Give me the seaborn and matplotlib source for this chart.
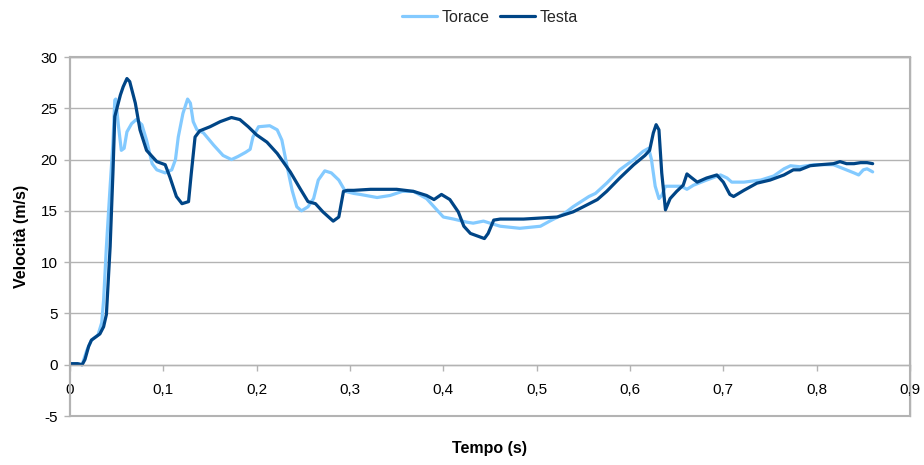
import matplotlib
matplotlib.use("Agg")
import matplotlib.pyplot as plt
import seaborn as sns
import pandas as pd
from matplotlib.ticker import FixedLocator, FixedFormatter
from matplotlib.patches import Rectangle

# --- data -------------------------------------------------------------------
series_names = ["Torace", "Testa"]
series_colors = ["#83caff", "#004586"]

torace_t = [
    0.000, 0.008, 0.013, 0.018, 0.023, 0.030, 0.034, 0.036, 0.039, 0.043,
    0.046, 0.048, 0.049, 0.052, 0.055, 0.058, 0.061, 0.066, 0.071, 0.077,
    0.082, 0.088, 0.093, 0.102, 0.109, 0.113, 0.116, 0.121, 0.126, 0.129,
    0.132, 0.136, 0.143, 0.154, 0.164, 0.173, 0.180, 0.188, 0.193, 0.196,
    0.202, 0.214, 0.222, 0.227, 0.232, 0.238, 0.243, 0.248, 0.255, 0.261,
    0.266, 0.273, 0.280, 0.288, 0.295, 0.304, 0.311, 0.329, 0.343, 0.356,
    0.368, 0.382, 0.391, 0.400, 0.411, 0.425, 0.432, 0.443, 0.450, 0.461,
    0.482, 0.504, 0.514, 0.529, 0.539, 0.556, 0.563, 0.575, 0.589, 0.604,
    0.614, 0.620, 0.623, 0.627, 0.631, 0.634, 0.638, 0.646, 0.655, 0.661,
    0.668, 0.682, 0.697, 0.704, 0.709, 0.722, 0.740, 0.754, 0.765, 0.772,
    0.782, 0.797, 0.818, 0.829, 0.840, 0.845, 0.850, 0.854, 0.860,
]
torace_v = [
    0.1, 0.1, 0.0, 1.4, 2.4, 2.9, 4.1, 6.3, 11.5, 17.4,
    21.6, 25.8, 25.9, 23.2, 20.9, 21.1, 22.7, 23.5, 23.9, 23.4,
    21.9, 19.6, 19.0, 18.7, 19.0, 20.0, 22.2, 24.5, 25.9, 25.5,
    23.7, 22.9, 22.6, 21.4, 20.4, 20.0, 20.3, 20.7, 21.0, 22.2,
    23.2, 23.3, 22.9, 21.9, 19.6, 17.0, 15.4, 15.0, 15.4, 16.2,
    18.0, 18.9, 18.7, 18.0, 16.9, 16.7, 16.6, 16.3, 16.5, 16.9,
    16.9, 16.2, 15.3, 14.4, 14.2, 13.9, 13.8, 14.0, 13.8, 13.5,
    13.3, 13.5, 14.0, 14.7, 15.4, 16.4, 16.7, 17.7, 19.0, 20.0,
    20.8, 21.1, 20.0, 17.4, 16.2, 16.5, 17.4, 17.4, 17.4, 17.1,
    17.5, 18.0, 18.5, 18.2, 17.8, 17.8, 18.0, 18.4, 19.1, 19.4,
    19.3, 19.5, 19.5, 19.1, 18.7, 18.5, 19.0, 19.1, 18.8,
]

testa_t = [
    0.000, 0.008, 0.013, 0.016, 0.020, 0.023, 0.029, 0.032, 0.036, 0.039,
    0.043, 0.046, 0.048, 0.054, 0.057, 0.061, 0.064, 0.070, 0.075, 0.082,
    0.093, 0.102, 0.107, 0.114, 0.120, 0.127, 0.130, 0.134, 0.139, 0.150,
    0.161, 0.173, 0.182, 0.191, 0.200, 0.211, 0.222, 0.236, 0.247, 0.255,
    0.263, 0.271, 0.282, 0.288, 0.293, 0.297, 0.304, 0.322, 0.350, 0.368,
    0.382, 0.390, 0.398, 0.407, 0.416, 0.422, 0.429, 0.438, 0.444, 0.448,
    0.454, 0.461, 0.486, 0.504, 0.522, 0.539, 0.550, 0.565, 0.575, 0.589,
    0.604, 0.616, 0.621, 0.625, 0.628, 0.631, 0.634, 0.638, 0.643, 0.650,
    0.657, 0.661, 0.665, 0.672, 0.682, 0.693, 0.700, 0.707, 0.711, 0.722,
    0.736, 0.750, 0.765, 0.775, 0.782, 0.793, 0.804, 0.818, 0.825, 0.832,
    0.840, 0.847, 0.854, 0.860,
]
testa_v = [
    0.1, 0.1, 0.0, 0.5, 1.8, 2.4, 2.8, 3.0, 3.7, 4.9,
    11.5, 18.7, 24.2, 26.3, 27.1, 27.9, 27.6, 25.5, 22.9, 20.9,
    19.8, 19.5, 18.3, 16.4, 15.7, 15.9, 18.7, 22.2, 22.8, 23.2,
    23.7, 24.1, 23.9, 23.2, 22.4, 21.7, 20.6, 18.8, 17.1, 15.9,
    15.7, 14.9, 14.0, 14.4, 16.9, 17.0, 17.0, 17.1, 17.1, 16.9,
    16.5, 16.1, 16.6, 16.1, 14.9, 13.5, 12.8, 12.5, 12.3, 12.8,
    14.1, 14.2, 14.2, 14.3, 14.4, 14.9, 15.4, 16.1, 16.9, 18.2,
    19.5, 20.4, 20.9, 22.6, 23.4, 22.9, 18.7, 15.1, 16.2, 16.9,
    17.5, 18.6, 18.3, 17.8, 18.2, 18.5, 17.8, 16.6, 16.4, 17.0,
    17.7, 18.0, 18.5, 19.0, 19.0, 19.4, 19.5, 19.6, 19.8, 19.6,
    19.6, 19.7, 19.7, 19.6,
]

x_ticks = [0.0, 0.1, 0.2, 0.3, 0.4, 0.5, 0.6, 0.7, 0.8, 0.9]
x_tick_labels = ["0", "0,1", "0,2", "0,3", "0,4", "0,5", "0,6", "0,7", "0,8", "0,9"]
y_ticks = [-5, 0, 5, 10, 15, 20, 25, 30]
y_tick_labels = ["-5", "0", "5", "10", "15", "20", "25", "30"]

x_title = "Tempo (s)"
y_title = "Velocità (m/s)"

# --- long-form table ---------------------------------------------------------
df = pd.concat([
    pd.DataFrame({"t": torace_t, "v": torace_v, "serie": series_names[0]}),
    pd.DataFrame({"t": testa_t, "v": testa_v, "serie": series_names[1]}),
], ignore_index=True)

# --- figure ------------------------------------------------------------------
sns.set_theme(style="white")
plt.rcParams["font.family"] = ["Liberation Sans", "DejaVu Sans"]

GRID = "#b3b3b3"

fig = plt.figure(figsize=(9.24, 4.65), dpi=100)
ax = fig.add_axes([70 / 924, 1 - 416 / 465, 840 / 924, 359 / 465])

sns.lineplot(
    data=df, x="t", y="v", hue="serie", hue_order=series_names,
    palette=series_colors, estimator=None, sort=False,
    linewidth=2.3, ax=ax,
)
for line in ax.get_lines():
    line.set_solid_joinstyle("round")
    line.set_solid_capstyle("round")

ax.set_xlim(0, 0.9)
ax.set_ylim(-5, 30)

ax.xaxis.set_major_locator(FixedLocator(x_ticks))
ax.xaxis.set_major_formatter(FixedFormatter(x_tick_labels))
ax.yaxis.set_major_locator(FixedLocator(y_ticks))
ax.yaxis.set_major_formatter(FixedFormatter(y_tick_labels))

ax.grid(axis="y", color=GRID, linewidth=1.0)
ax.grid(axis="x", visible=False)
ax.set_axisbelow(True)

# plot-area frame
for side in ["top", "right"]:
    ax.spines[side].set_color(GRID)
    ax.spines[side].set_linewidth(1.0)
ax.spines["left"].set_color(GRID)
ax.spines["left"].set_linewidth(1.5)
ax.spines["bottom"].set_position(("data", 0))
ax.spines["bottom"].set_color(GRID)
ax.spines["bottom"].set_linewidth(1.0)
ax.add_patch(Rectangle((0, 0), 1, 1, transform=ax.transAxes, fill=False,
                       edgecolor=GRID, linewidth=1.5, clip_on=False, zorder=0.5))

ax.tick_params(axis="x", direction="out", length=4, width=1, color=GRID,
               pad=9, labelsize=11, labelcolor="black")
ax.tick_params(axis="y", direction="out", length=4, width=1, color=GRID,
               pad=5, labelsize=11, labelcolor="black")
ax.tick_params(bottom=True, left=True)

ax.set_xlabel(x_title, fontsize=11.5, fontweight="bold", color="black")
ax.set_ylabel(y_title, fontsize=11.5, fontweight="bold", color="black")
ax.xaxis.label.set_va("center")
ax.xaxis.set_label_coords(0.5, (416 - 448) / 359)
ax.yaxis.label.set_va("center")
ax.yaxis.set_label_coords((22 - 70) / 840, 0.5)

handles, labels = ax.get_legend_handles_labels()
ax.legend(handles, labels, loc="center", ncol=2, frameon=False,
          bbox_to_anchor=(490 / 924, 1 - 17 / 465), bbox_transform=fig.transFigure,
          fontsize=11.5, handlelength=2.2, handletextpad=0.3, columnspacing=0.6)

fig.savefig("out.png", dpi=100)
